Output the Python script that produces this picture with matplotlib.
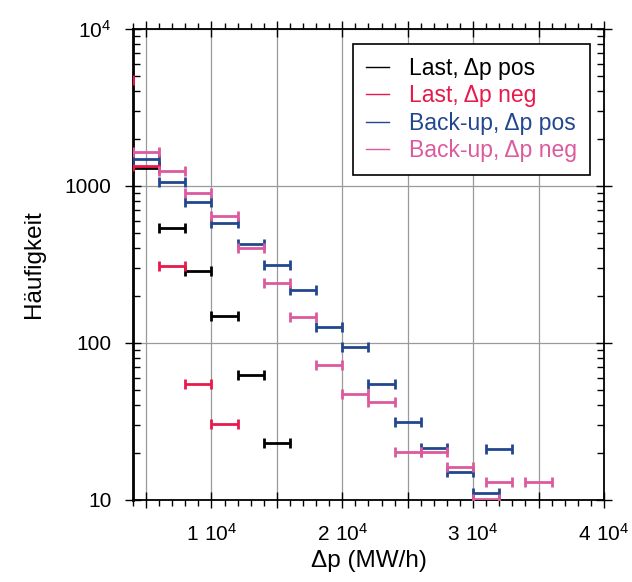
import matplotlib
matplotlib.use("Agg")
import matplotlib.pyplot as plt
from matplotlib.lines import Line2D
from matplotlib.ticker import MultipleLocator, FixedLocator, FuncFormatter, LogLocator, NullFormatter

plt.rcParams['font.family'] = ['Liberation Sans', 'DejaVu Sans']
plt.rcParams['mathtext.fontset'] = 'custom'
plt.rcParams['mathtext.rm'] = 'Liberation Sans'
plt.rcParams['mathtext.default'] = 'regular'

# Daten: Klassenmitten (MW/h) und Häufigkeiten, Klassenbreite 2000
halbe_breite = 1000

last_pos_x = [5000, 7000, 9000, 11000, 13000, 15000]
last_pos_y = [1300, 542, 289, 149, 62.5, 23]

last_neg_x = [3000, 5000, 7000, 9000, 11000]
last_neg_y = [4700, 1340, 309, 55, 30.3]

backup_pos_x = [5000, 7000, 9000, 11000, 13000, 15000, 17000, 19000, 21000,
                23000, 25000, 27000, 29000, 31000, 32000]
backup_pos_y = [1480, 1065, 787, 578, 427, 314, 218, 126, 94.6,
                54.8, 31.3, 21.3, 15.0, 11.1, 21.1]

backup_neg_x = [5000, 7000, 9000, 11000, 13000, 15000, 17000, 19000, 21000,
                23000, 25000, 27000, 29000, 31000, 32000, 35000]
backup_neg_y = [1650, 1250, 900, 644, 401, 240, 146, 72.4, 47.3,
                42.3, 20.1, 20.1, 16.2, 10.2, 13.1, 13.1]

namen = ['Last, \u0394p pos', 'Last, \u0394p neg', 'Back-up, \u0394p pos', 'Back-up, \u0394p neg']
farben = ['#000000', '#e8194b', '#22478f', '#dc5a9e']

fig = plt.figure(figsize=(6.32, 5.82), dpi=100)
ax = fig.add_axes([0.2104, 0.1409, 0.7453, 0.8093])

serien = [(last_pos_x, last_pos_y), (last_neg_x, last_neg_y),
          (backup_pos_x, backup_pos_y), (backup_neg_x, backup_neg_y)]
for (xs, ys), farbe in zip(serien, farben):
    ax.errorbar(xs, ys, xerr=halbe_breite, fmt='none', ecolor=farbe,
                elinewidth=2.0, capsize=3.5, capthick=2.0, zorder=3)

ax.set_yscale('log')
ax.set_xlim(4000, 40000)
ax.set_ylim(10, 10000)

# x-Achse
ax.xaxis.set_major_locator(MultipleLocator(5000))
ax.xaxis.set_minor_locator(MultipleLocator(1000))
def xfmt(v, pos):
    if v % 10000 == 0 and v > 0:
        return r'$%d\ 10^{4}$' % int(v / 10000)
    return ''
ax.xaxis.set_major_formatter(FuncFormatter(xfmt))

# y-Achse
ax.yaxis.set_major_locator(FixedLocator([10, 100, 1000, 10000]))
ax.yaxis.set_major_formatter(FuncFormatter(
    lambda v, pos: {10: '10', 100: '100', 1000: '1000', 10000: r'$10^{4}$'}.get(int(round(v)), '')))
ax.yaxis.set_minor_locator(LogLocator(base=10, subs=range(2, 10)))
ax.yaxis.set_minor_formatter(NullFormatter())

ax.tick_params(axis='x', which='minor', direction='out', length=4, width=1, top=True, bottom=True)
ax.tick_params(axis='x', which='major', direction='inout', length=11, width=1, top=True, bottom=True,
               labelsize=15, pad=11)
ax.tick_params(axis='y', which='minor', direction='in', length=5, width=1, left=True, right=True)
ax.tick_params(axis='y', which='major', direction='inout', length=11, width=1, left=True, right=True,
               labelsize=15, pad=10)

ax.grid(True, which='major', color='#9a9a9a', linewidth=0.9)
ax.set_axisbelow(True)

for seite in ['top', 'right', 'bottom']:
    ax.spines[seite].set_linewidth(1.3)
ax.spines['left'].set_linewidth(2.0)

ax.set_xlabel('\u0394p (MW/h)', fontsize=17.5, labelpad=4)
ax.set_ylabel('Häufigkeit', fontsize=17.5, labelpad=14)

griffe = [Line2D([0], [0], color=f, lw=1) for f in farben]
leg = ax.legend(griffe, namen, loc='upper right', bbox_to_anchor=(0.970, 0.968),
                borderaxespad=0, fancybox=False, framealpha=1, edgecolor='black',
                fontsize=16.5, handlelength=1.0, handletextpad=0.9, labelspacing=0.2,
                borderpad=0.55)
leg.get_frame().set_linewidth(1.2)
for text, farbe in zip(leg.get_texts(), farben):
    text.set_color(farbe)

fig.savefig('out.png', dpi=100)
